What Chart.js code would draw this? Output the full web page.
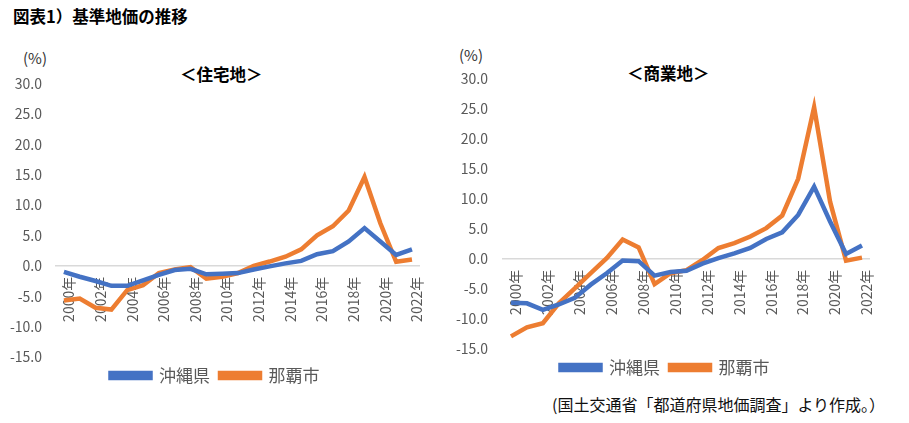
<!DOCTYPE html>
<html lang="ja">
<head>
<meta charset="utf-8">
<script src="https://cdn.jsdelivr.net/npm/chart.js@4.4.1/dist/chart.umd.min.js"></script>
<style>
  body { margin: 0; width: 909px; height: 423px; background: #fff; position: relative; overflow: hidden;
         font-family: "Noto Sans CJK JP", "Noto Sans", sans-serif; }
  .txt { position: absolute; white-space: nowrap; color: #000; line-height: 1; }
  .box { position: absolute; }
</style>
</head>
<body>
<div class="txt" style="left:13px; top:8px; font-size:16.5px; font-weight:bold;">図表1）基準地価の推移</div>

<div class="txt" style="left:23px; top:50px; font-size:15px; color:#333;">(%)</div>
<div class="txt" style="left:180px; top:66px; font-size:16.5px; font-weight:bold;">＜住宅地＞</div>
<div class="box" style="left:0px; top:61px; width:440px; height:333px;"><canvas id="resChart"></canvas></div>

<div class="txt" style="left:459px; top:47px; font-size:15px; color:#333;">(%)</div>
<div class="txt" style="left:627px; top:65px; font-size:16.5px; font-weight:bold;">＜商業地＞</div>
<div class="box" style="left:450px; top:55px; width:440px; height:331px;"><canvas id="comChart"></canvas></div>

<div class="txt" style="left:552px; top:396px; font-size:16px; color:#111;">(国土交通省「都道府県地価調査」より作成。）</div>

<script>
// 年ラベル
const years = ["2000年", "2001年", "2002年", "2003年", "2004年", "2005年", "2006年", "2007年",
  "2008年", "2009年", "2010年", "2011年", "2012年", "2013年", "2014年", "2015年",
  "2016年", "2017年", "2018年", "2019年", "2020年", "2021年", "2022年"];

// 住宅地 (%)
const resOkinawa = [-1.0, -1.8, -2.5, -3.3, -3.3, -2.4, -1.5, -0.7, -0.5, -1.4, -1.3, -1.2,
  -0.6, -0.1, 0.4, 0.8, 1.9, 2.4, 4.0, 6.2, 4.0, 1.8, 2.7];
const resNaha = [-5.7, -5.4, -6.9, -7.2, -4.0, -3.2, -1.2, -0.6, -0.2, -2.1, -1.8, -1.2,
  0.0, 0.7, 1.5, 2.7, 5.0, 6.5, 9.1, 14.6, 7.0, 0.65, 1.05];

// 商業地 (%)
const comOkinawa = [-7.3, -7.4, -8.5, -7.6, -6.5, -4.3, -2.4, -0.3, -0.4, -2.8, -2.2, -2.0,
  -0.8, 0.1, 0.9, 1.8, 3.3, 4.4, 7.3, 12.0, 6.2, 0.8, 2.2];
const comNaha = [-12.9, -11.4, -10.7, -7.4, -4.9, -2.4, 0.1, 3.2, 1.9, -4.2, -2.4, -1.9,
  -0.2, 1.8, 2.6, 3.7, 5.1, 7.2, 13.3, 25.2, 9.5, -0.3, 0.2];

const seriesNames = ["沖縄県", "那覇市"];
const seriesColors = ["#4472C4", "#ED7D31"];
const yMin = -15, yMax = 30, yStep = 5;

const font = "'Noto Sans CJK JP', 'Noto Sans', sans-serif";

function makeChart(id, okinawa, naha, yLabelPad, yAxisWidth) {
  const data = {
    labels: years,
    datasets: [okinawa, naha].map((vals, i) => ({
      label: seriesNames[i],
      data: vals,
      borderColor: seriesColors[i],
      backgroundColor: seriesColors[i],
      borderWidth: 4.5,
      pointRadius: 0,
      tension: 0
    }))
  };

  return new Chart(document.getElementById(id), {
    type: "line",
    data: data,
    options: {
      responsive: true,
      maintainAspectRatio: false,
      animation: false,
      layout: { padding: { top: 10, right: 10, left: 0, bottom: 0 } },
      plugins: {
        legend: {
          position: "bottom",
          labels: {
            boxWidth: 40,
            boxHeight: 5,
            color: "#595959",
            font: { family: font, size: 17 }
          }
        },
        tooltip: { enabled: false }
      },
      scales: {
        x: {
          position: { y: 0 },
          offset: true,
          grid: { display: false, drawTicks: false },
          border: { display: true, color: "#D9D9D9", width: 1.5 },
          afterFit: s => { s.height = 0; },
          ticks: {
            autoSkip: false,
            minRotation: 90,
            maxRotation: 90,
            padding: 11,
            labelOffset: 5,
            color: "#595959",
            font: { family: font, size: 14 },
            callback: function (val, idx) { return idx % 2 === 0 ? this.getLabelForValue(val) : ""; }
          }
        },
        y: {
          min: yMin,
          max: yMax,
          grid: { display: false, drawTicks: false },
          border: { display: false },
          afterFit: s => { s.width = yAxisWidth; },
          ticks: {
            stepSize: yStep,
            padding: yLabelPad,
            color: "#595959",
            font: { family: font, size: 14 },
            callback: v => v.toFixed(1)
          }
        }
      }
    }
  });
}

makeChart("resChart", resOkinawa, resNaha, 14, 56);
makeChart("comChart", comOkinawa, comNaha, 15, 53);
</script>
</body>
</html>
